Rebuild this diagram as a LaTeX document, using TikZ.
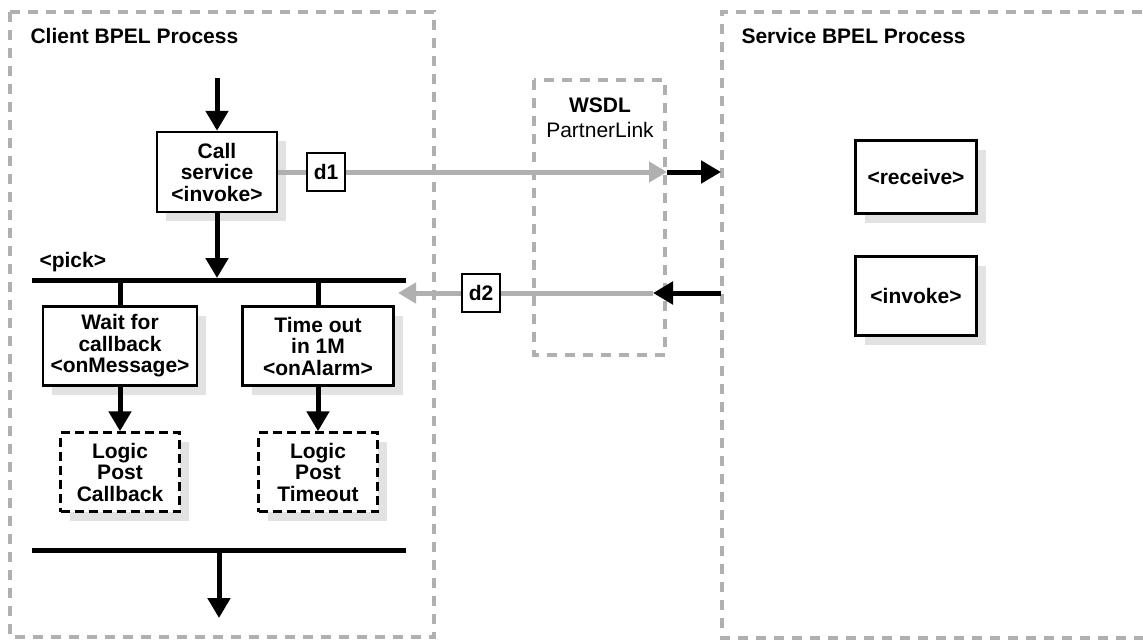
\documentclass[tikz,border=0pt]{standalone}
\usepackage{fontspec}
\setmainfont{Liberation Sans}
\usetikzlibrary{arrows.meta,shadows}
\definecolor{dgray}{HTML}{B0B0B0}
\definecolor{sgray}{HTML}{E2E2E2}
\begin{document}
\begin{tikzpicture}[x=1pt,y=-1pt,
  font=\fontsize{21}{21.5}\selectfont\bfseries,
  region/.style={draw=dgray,line width=4pt,dash pattern=on 10pt off 8pt},
  box/.style={draw,line width=2.5pt,fill=white,align=center,inner sep=0pt,
    drop shadow={shadow xshift=9pt,shadow yshift=-9pt,fill=sgray,opacity=1}},
  dbox/.style={box,dash pattern=on 9pt off 5pt},
  tag/.style={draw,line width=2pt,fill=white,minimum size=38pt,inner sep=0pt},
  flow/.style={line width=5pt,-{Triangle[width=22pt,length=20pt]}},
  bar/.style={line width=5pt},
  link/.style={draw=dgray,line width=5pt},
  linkarrow/.style={link,-{Triangle[width=20pt,length=18pt]}}
]
\useasboundingbox (0,0) rectangle (1143,640);
% regions
\draw[region] (10,12) rectangle (434,637);
\draw[region] (1160,12) -- (722,12) -- (722,638) -- (1160,638);
\draw[region] (534,80) rectangle (665,355);
% titles
\node[anchor=base west] (ctitle) at (27,43) {Client BPEL Process};
\node[anchor=base west] (stitle) at (738,43) {Service BPEL Process};
\node[anchor=base] (wsdl) at (600,112) {WSDL};
\node[anchor=base,font=\fontsize{21}{21.5}\selectfont] (plink) at (600,137) {PartnerLink};
% call service
\coordinate (top) at (217,78);
\node[box,minimum width=120pt,minimum height=80pt] (call) at (217,172) {Call\\service\\<invoke>};
\draw[flow] (top) -- (call.north);
% d1 link
\node[tag] (d1) at (326,172) {d1};
\coordinate (w1) at (667,172);
\coordinate (s1) at (721,172);
\draw[link] (call.east) -- (d1.west);
\draw[linkarrow] (d1.east) -- (w1);
\draw[flow] (w1) -- (s1);
% d2 link
\coordinate (s2) at (721,293);
\coordinate (w2) at (653,293);
\node[tag] (d2) at (481,293) {d2};
\coordinate (p2) at (398,293);
\draw[link] (w2) -- (d2.east);
\draw[linkarrow] (d2.west) -- (p2);
\draw[flow] (s2) -- (w2);
% pick
\coordinate (pickL) at (32,280);
\coordinate (pickR) at (406,280);
\draw[bar] (pickL) -- (pickR);
\node[anchor=base west] (picklbl) at (36,267) {<pick>};
\draw[flow,shorten >=2pt] (call.south) -- (call.south |- pickL);
% branches
\node[box,minimum width=154pt,minimum height=79pt] (wait) at (120,346) {Wait for\\callback\\<onMessage>};
\node[box,minimum width=151pt,minimum height=79pt] (time) at (318,346) {Time out\\in 1M\\<onAlarm>};
\draw[bar] (wait.north) -- (wait.north |- pickL);
\draw[bar] (time.north) -- (time.north |- pickL);
\node[dbox,minimum width=119pt,minimum height=79pt] (lpc) at (120,472) {Logic\\Post\\Callback};
\node[dbox,minimum width=119pt,minimum height=79pt] (lpt) at (318,472) {Logic\\Post\\Timeout};
\draw[flow] (wait.south) -- (lpc.north);
\draw[flow] (time.south) -- (lpt.north);
% join
\coordinate (endL) at (32,550);
\coordinate (endR) at (406,550);
\draw[bar] (endL) -- (endR);
\coordinate (out) at (219,618);
\draw[flow] (out |- endL) -- (out);
% service
\node[box,minimum width=121pt,minimum height=73pt] (recv) at (916,177) {<receive>};
\node[box,minimum width=121pt,minimum height=79pt] (sinv) at (916,296) {<invoke>};
\end{tikzpicture}
\end{document}
